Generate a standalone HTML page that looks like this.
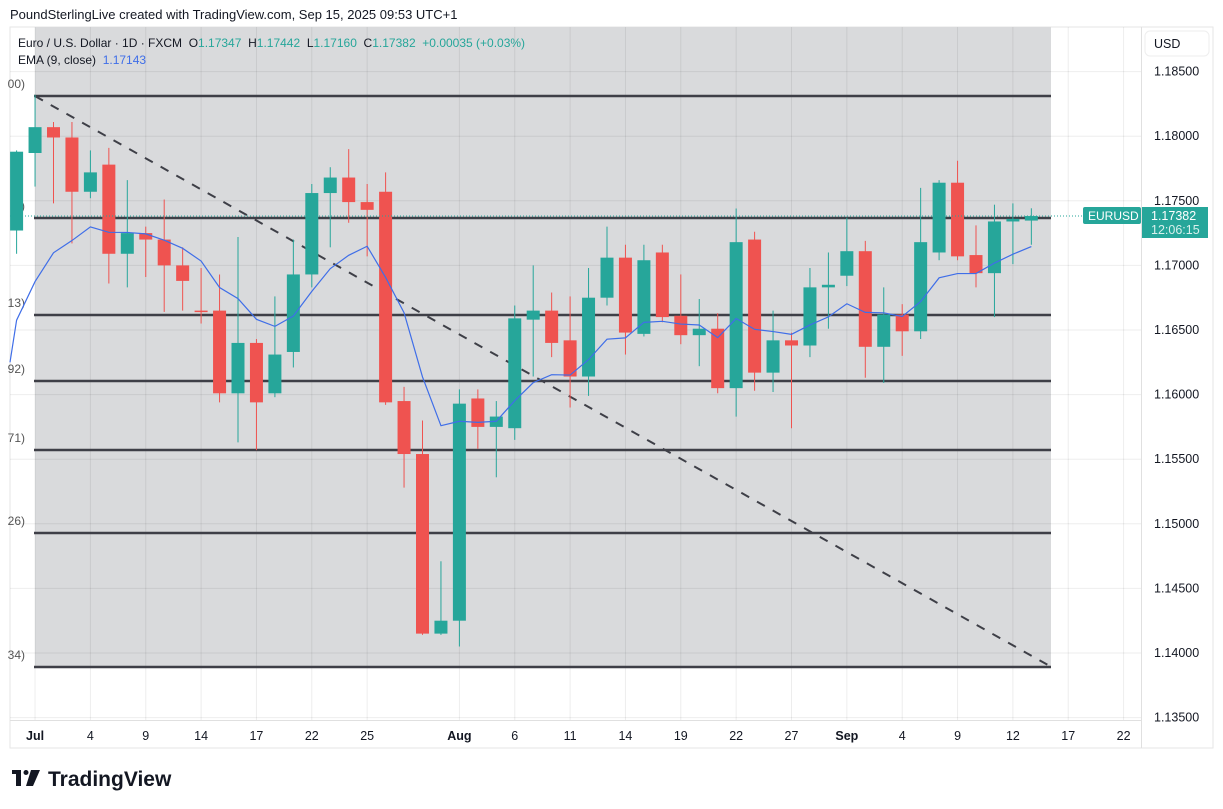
<!DOCTYPE html>
<html><head><meta charset="utf-8">
<style>
body{margin:0;background:#fff;width:1223px;height:809px;overflow:hidden;font-family:"Liberation Sans",sans-serif;}
svg{position:absolute;left:0;top:0}
.pre{white-space:pre}
</style></head>
<body>
<svg id="chart" width="1223" height="809"></svg>
<script>
const dates=["Jun30","Jul1","Jul2","Jul3","Jul4","Jul7","Jul8","Jul9","Jul10","Jul11","Jul14","Jul15","Jul16","Jul17","Jul18","Jul21","Jul22","Jul23","Jul24","Jul25","Jul28","Jul29","Jul30","Jul31","Aug1","Aug4","Aug5","Aug6","Aug7","Aug8","Aug11","Aug12","Aug13","Aug14","Aug15","Aug18","Aug19","Aug20","Aug21","Aug22","Aug25","Aug26","Aug27","Aug28","Aug29","Sep1","Sep2","Sep3","Sep4","Sep5","Sep8","Sep9","Sep10","Sep11","Sep12","Sep15"];
const opens=[1.1727,1.1787,1.1807,1.1799,1.1757,1.1778,1.1709,1.1725,1.1720,1.1700,1.1665,1.1665,1.1601,1.1640,1.1601,1.1633,1.1693,1.1756,1.1768,1.1749,1.1757,1.1595,1.1554,1.1415,1.1425,1.1597,1.1575,1.1574,1.1658,1.1665,1.1642,1.1614,1.1675,1.1706,1.1647,1.1710,1.1661,1.1646,1.1651,1.1605,1.1720,1.1617,1.1642,1.1638,1.1683,1.1692,1.1711,1.1637,1.1662,1.1649,1.1710,1.1764,1.1708,1.1694,1.1734,1.17347];
const highs=[1.1789,1.1832,1.1811,1.1811,1.1789,1.1791,1.1766,1.1730,1.1751,1.1714,1.1698,1.1693,1.1722,1.1643,1.1676,1.1720,1.1763,1.1776,1.1790,1.1763,1.1772,1.1606,1.1580,1.1471,1.1604,1.1604,1.1595,1.1669,1.1700,1.1679,1.1676,1.1698,1.1730,1.1716,1.1716,1.1716,1.1693,1.1674,1.1663,1.1744,1.1726,1.1665,1.1648,1.1698,1.1710,1.1737,1.1719,1.1683,1.1670,1.1760,1.1766,1.1781,1.1731,1.1747,1.1748,1.17442];
const lows=[1.1709,1.1761,1.1748,1.1717,1.1752,1.1686,1.1683,1.1691,1.1664,1.1665,1.1655,1.1594,1.1563,1.1557,1.1598,1.1621,1.1683,1.1714,1.1733,1.1707,1.1592,1.1528,1.1414,1.1414,1.1405,1.1558,1.1536,1.1565,1.1614,1.1629,1.1590,1.1599,1.1669,1.1631,1.1645,1.1656,1.1639,1.1622,1.1601,1.1583,1.1603,1.1602,1.1574,1.1629,1.1651,1.1684,1.1613,1.1609,1.1630,1.1643,1.1704,1.1704,1.1683,1.1660,1.1701,1.17160];
const closes=[1.1788,1.1807,1.1799,1.1757,1.1772,1.1709,1.1725,1.1720,1.1700,1.1688,1.1664,1.1601,1.1640,1.1594,1.1631,1.1693,1.1756,1.1768,1.1749,1.1743,1.1594,1.1554,1.1415,1.1425,1.1593,1.1575,1.1583,1.1659,1.1665,1.1640,1.1614,1.1675,1.1706,1.1648,1.1704,1.1660,1.1646,1.1651,1.1605,1.1718,1.1617,1.1642,1.1638,1.1683,1.1685,1.1711,1.1637,1.1662,1.1649,1.1718,1.1764,1.1707,1.1694,1.1734,1.1736,1.17382];
const emaSeed=1.1625;
const fibLevels=[1.18311,1.17367,1.16616,1.16105,1.15571,1.14929,1.13892];
const fibLabels=["00)","0)","13)","92)","71)","26)","34)"];
const trendStart=[1,1.1831];
const trendEnd=[55.9,1.13907];
const priceTicks=[1.185,1.18,1.175,1.17,1.165,1.16,1.155,1.15,1.145,1.14,1.135];
const timeTickIdx=[1,4,7,10,13,16,19,24,27,30,33,36,39,42,45,48,51,54,57,60];
const timeTickLabels=["Jul","4","9","14","17","22","25","Aug","6","11","14","19","22","27","Sep","4","9","12","17","22"];

const svg=document.getElementById('chart');
const NS='http://www.w3.org/2000/svg';
const X=i=>16.6+i*18.45;
const Y=p=>653-(p-1.14)*12920;
function mk(tag,attrs,parent){const e=document.createElementNS(NS,tag);for(const k in attrs)e.setAttribute(k,attrs[k]);(parent||svg).appendChild(e);return e;}

let e;
e=mk('rect',{x:10,y:27,width:1203,height:721,fill:'#fff',stroke:'#e6e6e6'});


e=mk('rect',{x:35,y:27,width:1016,height:640,fill:'#d9dadc'});


priceTicks.forEach(p=>{e=mk('line',{x1:10,x2:1141,y1:Y(p),y2:Y(p),stroke:'#000','stroke-opacity':0.07});

});
timeTickIdx.forEach(i=>{e=mk('line',{x1:X(i),x2:X(i),y1:27,y2:720,stroke:'#000','stroke-opacity':0.07});

});
mk('line',{x1:10,x2:1141,y1:720.5,y2:720.5,stroke:'#e0e0e0'});
mk('line',{x1:1141.5,x2:1141.5,y1:27,y2:748,stroke:'#e0e0e0'});
fibLevels.forEach((p,k)=>{
 e=mk('line',{x1:34,x2:1051,y1:Y(p),y2:Y(p),stroke:'#3e3f47','stroke-width':2.5});
 
 
 e=mk('text',{x:25,y:Y(p)-8,'text-anchor':'end','font-size':12,fill:'#555'});
 e.textContent=fibLabels[k];
 
 
});
e=mk('line',{x1:X(trendStart[0]),y1:Y(trendStart[1]),x2:X(trendEnd[0]),y2:Y(trendEnd[1]),stroke:'#3e3f47','stroke-width':2,'stroke-dasharray':'9 9'});


for(let i=0;i<opens.length;i++){
 const up=closes[i]>=opens[i];const c=up?'#26a69a':'#ef5350';
 const g=mk('g',{});
 
 
 mk('line',{x1:X(i),x2:X(i),y1:Y(highs[i]),y2:Y(lows[i]),stroke:c,'stroke-width':1},g);
 const t=Y(Math.max(opens[i],closes[i])),b=Y(Math.min(opens[i],closes[i]));
 mk('rect',{x:X(i)-6.5,y:t,width:13,height:Math.max(1.5,b-t),fill:c},g);
}
let ema=emaSeed;const pts=[[10,Y(ema)]];
closes.forEach((c,i)=>{ema=ema+0.2*(c-ema);pts.push([X(i),Y(ema)]);});
e=mk('polyline',{points:pts.map(p=>p.join(',')).join(' '),fill:'none',stroke:'#3f6ee8','stroke-width':1.2});


const lp=closes[closes.length-1];
e=mk('line',{x1:10,x2:1141,y1:Y(lp),y2:Y(lp),stroke:'#26a69a','stroke-dasharray':'1 2'});


priceTicks.forEach(p=>{e=mk('text',{x:1154,y:Y(p)+4,'font-size':12.5,fill:'#131722'});e.textContent=p.toFixed(5);

});
timeTickIdx.forEach((i,k)=>{e=mk('text',{x:X(i),y:740,'text-anchor':'middle','font-size':12.5,fill:'#131722','font-weight':['Jul','Aug','Sep'].includes(timeTickLabels[k])?'bold':'normal'});e.textContent=timeTickLabels[k];

});
</script>
<svg width="1223" height="809" style="pointer-events:none">
 <text x="10" y="19" font-size="13" fill="#131722">PoundSterlingLive created with TradingView.com, Sep 15, 2025 09:53 UTC+1</text>
 <text class="pre" x="18" y="47" font-size="12" fill="#131722">Euro / U.S. Dollar · 1D · FXCM  O<tspan fill="#26a69a">1.17347</tspan>  H<tspan fill="#26a69a">1.17442</tspan>  L<tspan fill="#26a69a">1.17160</tspan>  C<tspan fill="#26a69a">1.17382</tspan>  <tspan fill="#26a69a">+0.00035 (+0.03%)</tspan></text>
 <text class="pre" x="18" y="64" font-size="12" fill="#131722">EMA (9, close)  <tspan fill="#3f6ee8">1.17143</tspan></text>
 <rect x="1145" y="31" width="64" height="25" rx="5" fill="#fff" stroke="#eee"/>
 <text x="1154" y="48" font-size="12.5" fill="#131722">USD</text>
 <rect x="1083" y="207" width="58" height="17" rx="2" fill="#26a69a"/>
 <text x="1088" y="220" font-size="12" fill="#fff">EURUSD</text>
 <rect x="1142" y="207" width="66" height="31" fill="#26a69a"/>
 <text x="1151" y="220" font-size="12.5" fill="#fff">1.17382</text>
 <text x="1151" y="234" font-size="12.5" fill="#d8f0ec">12:06:15</text>
 <g>
  <rect x="12" y="770" width="9" height="4" fill="#131722"/><rect x="16" y="770" width="5" height="16" fill="#131722"/>
  <circle cx="26" cy="772.5" r="2.5" fill="#131722"/><polygon points="31,770 40,770 33,786 26,786" fill="#131722"/>
  <text x="48" y="786" font-size="21" font-weight="bold" fill="#131722">TradingView</text>
 </g>
</svg>
</body></html>
